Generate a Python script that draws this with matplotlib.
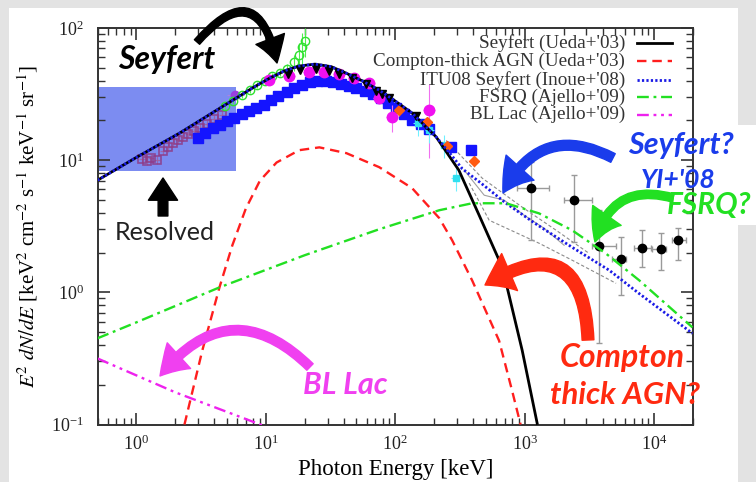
import matplotlib
matplotlib.use('Agg')
import matplotlib.pyplot as plt
from matplotlib.patches import Rectangle
from matplotlib.ticker import LogLocator, NullFormatter

plt.rcParams['font.family'] = ['Liberation Serif', 'DejaVu Serif']
plt.rcParams['mathtext.fontset'] = 'stix'

# ---------------- model curves (keV, keV^2 cm^-2 s^-1 keV^-1 sr^-1) ----------------
sey_x = [0.5, 1.0, 2.15, 3.5, 5.9, 8.0, 10.6, 14.0, 18.0, 24.0, 32.0, 41.6, 55, 75, 100, 135, 207, 310, 445, 635, 720, 957, 1250]
sey_y = [7.05, 10.5, 16.0, 21.5, 29.5, 35.5, 41.5, 47.5, 51.5, 53.3, 51.0, 45.6, 40.0, 33.9, 28.0, 22.7, 15.0, 8.4, 3.83, 1.75, 1.17, 0.364, 0.102]

ct_x = [2.35, 3.23, 4.38, 5.51, 7.0, 9.0, 12.1, 18.1, 25.9, 41.9, 75.2, 135, 219, 275, 393, 635, 800, 930]
ct_y = [0.1, 0.364, 1.09, 2.27, 4.3, 7.0, 9.6, 11.9, 12.5, 11.3, 8.85, 6.14, 3.64, 2.48, 1.23, 0.43, 0.18, 0.1]

itu_x = [0.5, 1.0, 2.15, 3.5, 5.9, 8.0, 10.6, 14.0, 18.0, 24.0, 32.0, 41.6, 55, 75, 100, 135, 207, 260, 330, 460, 719, 1200, 2330, 4500, 7660, 19800]
itu_y = [7.05, 10.5, 16.0, 21.5, 29.5, 35.5, 41.5, 47.5, 51.5, 53.3, 51.0, 45.6, 40.0, 33.9, 28.0, 22.7, 15.0, 11.5, 8.6, 6.7, 4.72, 3.33, 2.19, 1.47, 0.98, 0.489]

fsrq_x = [0.5, 1.0, 4.38, 20, 75, 219, 393, 718, 1290, 2325, 4235, 7700, 19800]
fsrq_y = [0.449, 0.593, 1.09, 1.91, 3.0, 4.18, 4.72, 4.72, 3.96, 2.95, 1.97, 1.23, 0.543]

bll_x = [0.5, 2.0, 9.3]
bll_y = [0.316, 0.175, 0.099]

# ---------------- measurements ----------------
asca_x = [1.1, 1.2, 1.3, 1.45, 1.6, 1.75, 1.9, 2.1, 2.3, 2.5, 2.8, 3.1, 3.5, 4.0, 4.6]
asca_y = [10.2, 9.8, 10.4, 10.0, 11.8, 12.5, 13.5, 14.2, 15.0, 15.8, 16.5, 17.5, 18.8, 20.5, 22.0]

purp_x = [5.8]
purp_y = [31.0]

heao_x = [3.0, 3.4, 3.9, 4.4, 5.0, 5.7, 6.5, 7.4, 8.4, 9.6, 11, 12.5, 14.5, 16.5, 19, 22, 25, 29, 33, 38, 44, 50, 58, 67, 77, 88, 101, 116, 135, 158, 183, 270, 385]
heao_y = [14.8, 16.0, 17.4, 18.6, 19.8, 21.0, 22.3, 23.4, 24.6, 26.3, 28.5, 30.8, 33.0, 35.0, 37.0, 38.8, 39.5, 39.5, 38.8, 37.5, 36.3, 35.0, 33.5, 31.5, 29.5, 27.0, 25.0, 22.5, 20.3, 18.8, 17.3, 12.5, 11.9]

grn_x = [4.8, 5.6, 6.5, 7.5, 8.6, 9.8, 11.2, 12.8, 14.5, 16.5, 18.0, 19.0, 20.0]
grn_y = [25.5, 28.0, 31.0, 34.0, 37.0, 40.0, 43.0, 46.0, 49.0, 55.0, 62.0, 72.0, 80.0]
grn_err = [1.5, 1.5, 1.5, 2, 2, 2, 2.5, 3, 4, 8, 15, 20, 20]

mag_x = [10.6, 15.2, 21.7, 28.3, 37, 48.3, 63, 75, 95, 183]
mag_y = [40.4, 43.3, 46.4, 46.4, 44.8, 41.8, 38.3, 29.5, 21.2, 23.9]
mag_lo = [2, 2, 2, 2, 2, 2, 2, 3, 5, 13.5]
mag_hi = [2, 2, 2, 2, 2, 2, 2, 3, 5, 14]

tri_x = [14.7, 18.2, 24.5, 30.9, 37, 46.5, 59.7, 71.2, 79.4, 89.8, 145, 174]
tri_y = [45, 48, 49, 47.5, 45, 42, 37.5, 33.5, 31.5, 29.5, 21.5, 18.5]

org_x = [107, 177, 251, 408]
org_y = [23.9, 19.4, 12.8, 9.83]

cyn_x = [150, 183, 239, 295]
cyn_y = [19.0, 16.9, 13.0, 7.3]

comp_x = [1122, 2410, 3760, 5560, 8070, 11300, 15300]
comp_y = [6.13, 4.98, 2.23, 1.78, 2.15, 2.12, 2.48]
comp_xlo = [870, 2030, 3320, 4700, 7000, 9600, 13800]
comp_xhi = [1550, 3320, 5090, 6100, 9500, 12400, 17700]
comp_ylo = [2.48, 2.39, 0.411, 0.949, 1.55, 1.47, 1.75]
comp_yhi = [9.66, 7.69, 4.18, 2.61, 2.95, 2.80, 3.05]

spi_up_x = [248, 470, 957, 1750, 3150]
spi_up_y = [14.1, 7.31, 4.41, 2.95, 1.97]
spi_lo_x = [373, 532, 1295, 2330, 5090]
spi_lo_y = [6.7, 3.51, 2.35, 1.75, 1.17]
spi_md_x = [341, 487, 695, 991, 1415, 2018]
spi_md_y = [8.4, 5.43, 4.98, 3.83, 3.05, 2.27]

resolved_box = (0.5, 5.9, 8.26, 35.7)  # x0, x1, y0, y1

legend_labels = ["Seyfert (Ueda+'03)", "Compton-thick AGN (Ueda+'03)", "ITU08 Seyfert (Inoue+'08)",
                 "FSRQ (Ajello+'09)", "BL Lac (Ajello+'09)"]

# ---------------- figure ----------------
W, H = 756, 482
fig = plt.figure(figsize=(7.56, 4.82), dpi=100, facecolor='#e3e3e3')
fig.add_artist(Rectangle((9 / W, 0), (738 - 9) / W, (482 - 8) / H, transform=fig.transFigure,
                         facecolor='white', edgecolor='none', zorder=-10))
fig.add_artist(Rectangle((738 / W, (482 - 225) / H), 18 / W, 100 / H, transform=fig.transFigure,
                         facecolor='white', edgecolor='none', zorder=-10))

ax = fig.add_axes([97.5 / W, (482 - 424.5) / H, 595.5 / W, 396.5 / H])
ax.set_xscale('log')
ax.set_yscale('log')
ax.set_xlim(0.5, 2e4)
ax.set_ylim(0.1, 100)

x0, x1, y0, y1 = resolved_box
ax.add_patch(Rectangle((x0, y0), x1 - x0, y1 - y0, facecolor='#6a7cf0', alpha=0.88,
                       edgecolor='none', zorder=1))

# gray band
ax.plot(spi_up_x, spi_up_y, color='#8a8a8a', lw=0.8, ls=(0, (3, 2)), zorder=2)
ax.plot(spi_lo_x, spi_lo_y, color='#8a8a8a', lw=0.8, ls=(0, (3, 2)), zorder=2)
ax.plot(spi_md_x, spi_md_y, color='#a0a0a0', lw=0.8, zorder=2)

# data points
ax.errorbar(asca_x, asca_y, yerr=[v * 0.07 for v in asca_y], xerr=[v * 0.05 for v in asca_x],
            fmt='s', ms=6, mfc='none', mec='#8e3a86', mew=1.2, ecolor='#a060a0', elinewidth=0.9,
            alpha=0.85, zorder=3)
ax.errorbar(purp_x, purp_y, xerr=[[0.8], [1.0]], fmt='o', ms=6, color='#9a40e0', ecolor='#b080e0',
            elinewidth=0.8, zorder=3)
ax.errorbar(grn_x, grn_y, yerr=grn_err, fmt='o', ms=6, mfc='none', mec='#30e030', ecolor='#50f050',
            elinewidth=0.8, zorder=3)
ax.plot(heao_x, heao_y, 's', ms=7, color='#1414ff', zorder=4)
ax.errorbar(mag_x, mag_y, yerr=[mag_lo, mag_hi], xerr=[[v * 0.1 for v in mag_x], [v * 0.1 for v in mag_x]],
            fmt='o', ms=7.5, color='#f010f0', ecolor='#f070f0', elinewidth=0.8, zorder=4)
ax.plot(tri_x, tri_y, 'v', ms=6, color='black', zorder=5)
ax.errorbar(cyn_x, cyn_y, yerr=[v * 0.2 for v in cyn_y], xerr=[v * 0.08 for v in cyn_x], fmt='s', ms=4,
            color='#30e0f0', ecolor='#70f0ff', elinewidth=0.8, zorder=4)
ax.errorbar(org_x, org_y, yerr=[v * 0.1 for v in org_y], xerr=[v * 0.08 for v in org_x], fmt='D', ms=5,
            color='#ff5a10', ecolor='#ff9060', elinewidth=0.8, zorder=5)
ax.errorbar(comp_x, comp_y,
            xerr=[[c - l for c, l in zip(comp_x, comp_xlo)], [h - c for c, h in zip(comp_x, comp_xhi)]],
            yerr=[[c - l for c, l in zip(comp_y, comp_ylo)], [h - c for c, h in zip(comp_y, comp_yhi)]],
            fmt='o', ms=6, color='black', ecolor='#9a9a9a', elinewidth=1.0, capsize=2.5, zorder=5)

# model curves
ax.plot(sey_x, sey_y, color='black', lw=2.0, zorder=6)
ax.plot(ct_x, ct_y, color='#ff1e1e', lw=1.7, ls=(0, (4, 2.5)), zorder=6)
ax.plot(itu_x, itu_y, color='#1a1ae6', lw=2.0, ls=(0, (0.8, 0.8)), zorder=6)
ax.plot(fsrq_x, fsrq_y, color='#22e022', lw=1.7, ls=(0, (5, 2, 1.2, 2)), zorder=6)
ax.plot(bll_x, bll_y, color='#ee22ee', lw=1.7, ls=(0, (5, 2, 1.2, 2, 1.2, 2)), zorder=6)

# ticks / spines
for s in ax.spines.values():
    s.set_linewidth(1.4)
    s.set_color('#333333')
ax.tick_params(which='both', direction='in', top=True, right=True, colors='#333333', labelcolor='#222222')
ax.tick_params(which='major', length=8.5, width=1.2, labelsize=13)
ax.tick_params(which='minor', length=5, width=1.0)
ax.tick_params(axis='x', which='major', pad=7)
ax.tick_params(axis='y', which='major', pad=10)
ax.xaxis.set_major_locator(LogLocator(base=10, numticks=10))
ax.xaxis.set_minor_locator(LogLocator(base=10, subs=range(2, 10), numticks=20))
ax.xaxis.set_minor_formatter(NullFormatter())
ax.yaxis.set_minor_locator(LogLocator(base=10, subs=range(2, 10), numticks=20))
ax.yaxis.set_minor_formatter(NullFormatter())

ax.set_xlabel('Photon Energy [keV]', fontsize=16.5, labelpad=4)
ax.set_ylabel(r'$E^2\ dN/dE$ [keV$^2$ cm$^{-2}$ s$^{-1}$ keV$^{-1}$ sr$^{-1}$]', fontsize=15, labelpad=8)

# legend (handles on the right, gnuplot style)
leg_styles = [('black', '-', 2.0), ('#ff1e1e', (0, (4, 2.5)), 1.7), ('#1a1ae6', (0, (0.8, 0.8)), 2.0),
              ('#22e022', (0, (5, 2, 1.2, 2)), 1.7), ('#ee22ee', (0, (5, 2, 1.2, 2, 1.2, 2)), 1.7)]
leg_rows = [0.962, 0.917, 0.870, 0.826, 0.781]
for lab, (c, ls, lw), yy in zip(legend_labels, leg_styles, leg_rows):
    ax.text(0.886, yy, lab, transform=ax.transAxes, ha='right', va='center', fontsize=13.8, color='#333333',
            zorder=8)
    ax.plot([0.906, 0.965], [yy, yy], transform=ax.transAxes, color=c, ls=ls, lw=lw, zorder=8)


# ---------------- slide annotations ----------------
def ftxt(x, y, s, color, size, weight='bold', style='italic', ha='center'):
    fig.text(x / W, 1 - y / H, s, color=color, fontsize=size, fontweight=weight, fontstyle=style,
             family=['Lato', 'DejaVu Sans'], ha=ha, va='center', zorder=20)


def farrow(tail, tip, color, rad, tw, hw, hl):
    ax.annotate('', xy=(tip[0], H - tip[1]), xytext=(tail[0], H - tail[1]),
                xycoords='figure pixels', textcoords='figure pixels',
                arrowprops=dict(arrowstyle=f'simple,head_length={hl},head_width={hw},tail_width={tw}',
                                connectionstyle=f'arc3,rad={rad}', color=color, shrinkA=0, shrinkB=0,
                                mutation_scale=1), zorder=20)


ftxt(167, 60, 'Seyfert', 'black', 23)
farrow((197, 42), (277, 63), 'black', -1.0, 5, 22, 18)

ftxt(165, 232, 'Resolved', '#222222', 18, weight='normal', style='normal')
farrow((163, 216), (163, 178), 'black', 0.0, 7, 21, 16)

ftxt(681, 145, 'Seyfert?', '#1a3ceb', 22)
ftxt(678, 180, "YI+'08", '#1a3ceb', 19)
farrow((613, 158), (503, 193), '#1a3ceb', 0.5, 7, 27, 22)

ftxt(709, 205, 'FSRQ?', '#22e022', 21.5)
farrow((673, 198), (595, 242), '#22e022', 0.5, 6, 25, 21)

ftxt(622, 357, 'Compton', '#ff2a10', 23)
ftxt(625, 395, 'thick AGN?', '#ff2a10', 22.5)
farrow((588, 340), (485, 285), '#ff2a10', 0.85, 8.5, 29, 20)

ftxt(345, 385, 'BL Lac', '#f040f0', 22)
farrow((310, 367), (160, 376), '#f040f0', 0.55, 6.5, 25, 20)

fig.savefig('out.png', dpi=100, facecolor=fig.get_facecolor())
